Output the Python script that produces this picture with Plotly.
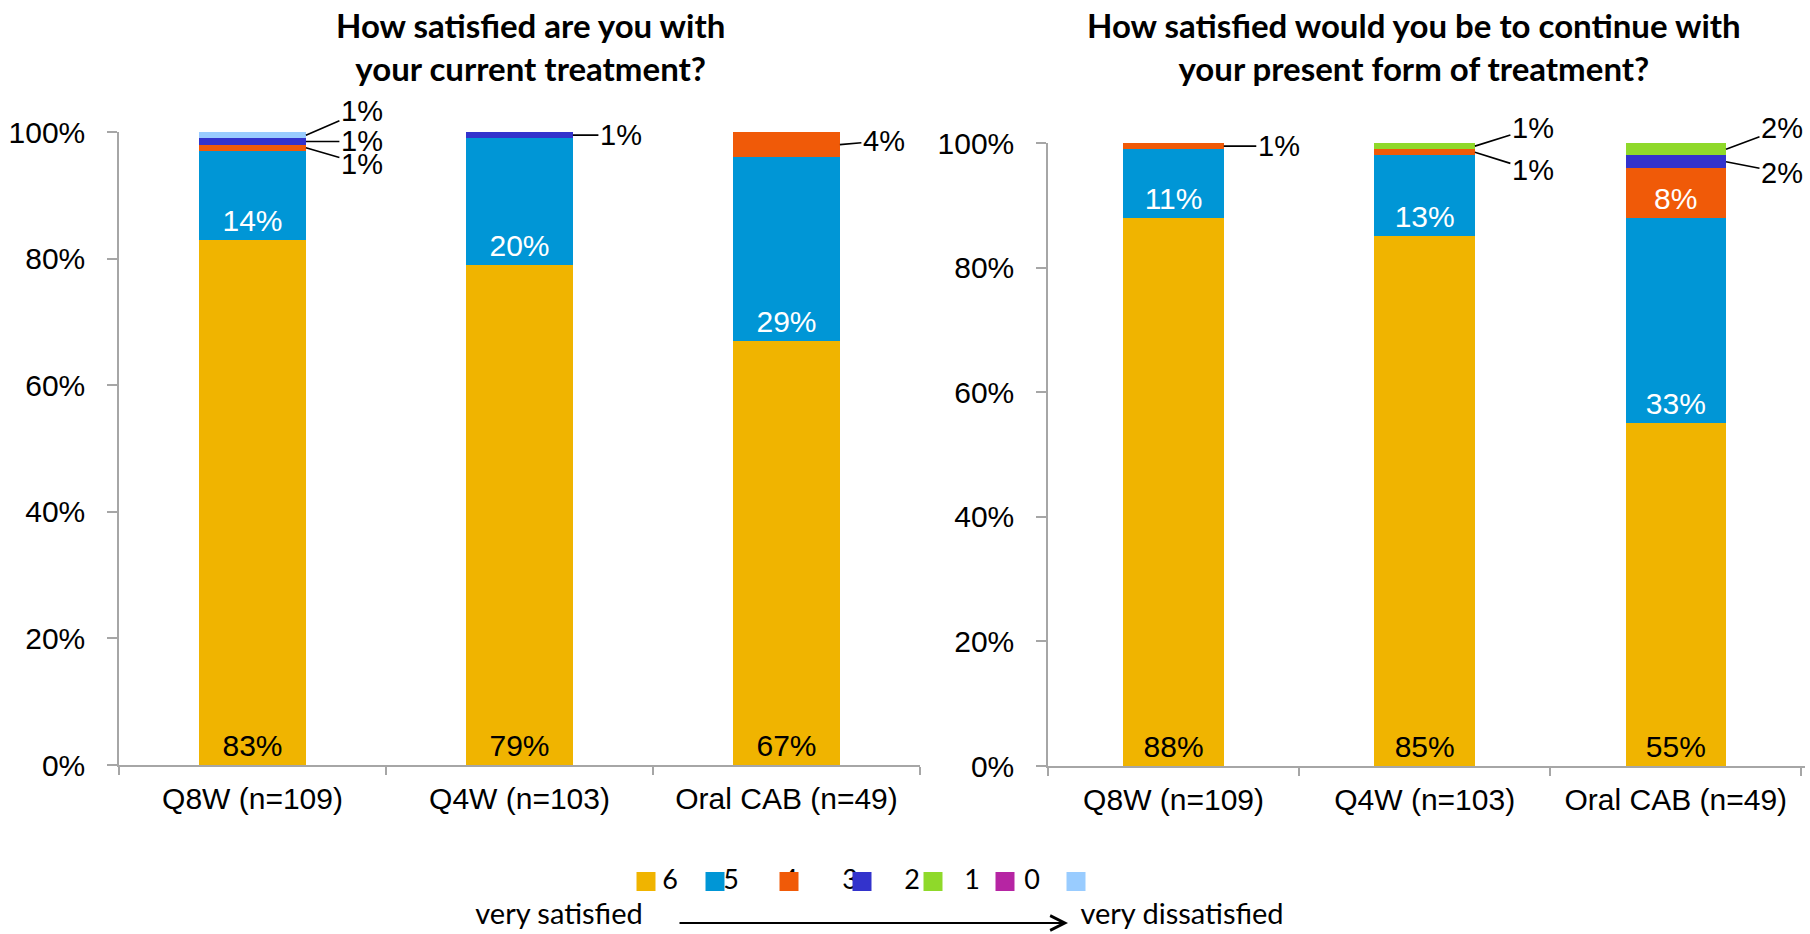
import plotly.graph_objects as go

categories = ["Q8W (n=109)", "Q4W (n=103)", "Oral CAB (n=49)"]
scores = ["6", "5", "4", "3", "2", "1", "0"]
colors = ["#F0B400", "#0096D6", "#F05A08", "#3333CC", "#8FD92A", "#B625A3", "#99CCFF"]

# Left chart: How satisfied are you with your current treatment?
left_6 = [83, 79, 67]
left_5 = [14, 20, 29]
left_4 = [1, 0, 4]
left_3 = [1, 1, 0]
left_2 = [0, 0, 0]
left_1 = [0, 0, 0]
left_0 = [1, 0, 0]

# Right chart: How satisfied would you be to continue with your present form of treatment?
right_6 = [88, 85, 55]
right_5 = [11, 13, 33]
right_4 = [1, 1, 8]
right_3 = [0, 0, 2]
right_2 = [0, 1, 2]
right_1 = [0, 0, 0]
right_0 = [0, 0, 0]

left_series = [left_6, left_5, left_4, left_3, left_2, left_1, left_0]
right_series = [right_6, right_5, right_4, right_3, right_2, right_1, right_0]

title_left = "How satisfied are you with<br>your current treatment?"
title_right = "How satisfied would you be to continue with<br>your present form of treatment?"
y_ticks = [0, 20, 40, 60, 80, 100]
y_ticktext = ["0%", "20%", "40%", "60%", "80%", "100%"]

W, H = 1810, 934
FONT = "Liberation Sans, Arial, sans-serif"
TFONT = "Lato, Liberation Sans, sans-serif"

fig = go.Figure()

for series, xa, ya in [(left_series, "x", "y"), (right_series, "x2", "y2")]:
    for s, vals, col in zip(scores, series, colors):
        fig.add_trace(go.Bar(
            x=categories, y=vals, name=s, marker=dict(color=col, line=dict(width=0)),
            text=[f"{v}%" if v >= 5 else "" for v in vals],
            textposition="inside", insidetextanchor="start", textangle=0,
            textfont=dict(family=FONT, size=30, color="black" if s == "6" else "white"),
            xaxis=xa, yaxis=ya, showlegend=False, hoverinfo="skip",
        ))

# Callouts for small segments: (axis suffix, category index, score, ax, ay)
callouts = [
    ("", 0, "0", 56, -24), ("", 0, "3", 56, 0), ("", 0, "4", 56, 16),
    ("", 1, "3", 48, 0), ("", 2, "4", 44, -4),
    ("2", 0, "4", 55, 0), ("2", 1, "2", 58, -18), ("2", 1, "4", 58, 18),
    ("2", 2, "2", 56, -21), ("2", 2, "3", 56, 11),
]
annotations = []
for suf, ci, sc, ax, ay in callouts:
    series = left_series if suf == "" else right_series
    k = scores.index(sc)
    base = sum(series[j][ci] for j in range(k))
    val = series[k][ci]
    annotations.append(dict(
        x=ci + 0.2, y=base + val / 2, xref="x" + suf, yref="y" + suf,
        text=f"{val}%", showarrow=True, arrowhead=0, arrowwidth=1.6, arrowcolor="black",
        ax=ax, ay=ay, standoff=0, font=dict(family=FONT, size=29, color="black"),
    ))

annotations.append(dict(x=530 / W, y=1 - 46 / H, xref="paper", yref="paper", text="<b>" + title_left + "</b>",
                        showarrow=False, xanchor="center", yanchor="middle",
                        font=dict(family=TFONT, size=33, color="black")))
annotations.append(dict(x=1414 / W, y=1 - 46 / H, xref="paper", yref="paper", text="<b>" + title_right + "</b>",
                        showarrow=False, xanchor="center", yanchor="middle",
                        font=dict(family=TFONT, size=33, color="black")))

# Legend (manual, in a helper subplot whose coordinates are pixels)
leg_text_x = [670, 731, 790, 850, 912, 972, 1032]
leg_sq_x = [646, 715, 789, 862, 933, 1005, 1076]
fig.add_trace(go.Scatter(x=leg_text_x, y=[882] * 7, mode="text", text=scores,
                         textfont=dict(family=TFONT, size=27, color="black"),
                         xaxis="x3", yaxis="y3", showlegend=False, hoverinfo="skip", cliponaxis=False))
fig.add_trace(go.Scatter(x=leg_sq_x, y=[881.5] * 7, mode="markers",
                         marker=dict(symbol="square", size=19, color=colors, line=dict(width=0)),
                         xaxis="x3", yaxis="y3", showlegend=False, hoverinfo="skip", cliponaxis=False))
fig.add_trace(go.Scatter(x=[559, 1182], y=[917, 917], mode="text",
                         text=["very satisfied", "very dissatisfied"],
                         textfont=dict(family=TFONT, size=29, color="black"),
                         xaxis="x3", yaxis="y3", showlegend=False, hoverinfo="skip", cliponaxis=False))
annotations.append(dict(x=1068, y=923, xref="x3", yref="y3", ax=678, ay=923, axref="x3", ayref="y3",
                        text="", showarrow=True, arrowhead=5, arrowsize=1.6, arrowwidth=1.8, arrowcolor="black"))

axis_line = "#A6A6A6"
xcommon = dict(type="category", showline=True, linecolor=axis_line, linewidth=1.5, ticks="outside",
               tickson="boundaries", ticklen=8, tickcolor=axis_line, tickwidth=1.5, automargin=False,
               tickfont=dict(family=FONT, size=30, color="black"), showgrid=False, ticklabelstandoff=6)
ycommon = dict(range=[0, 100], tickmode="array", tickvals=y_ticks, ticktext=y_ticktext, showline=True,
               linecolor=axis_line, automargin=False,
               linewidth=1.5, ticks="outside", ticklen=10, tickcolor=axis_line, tickwidth=1.5,
               tickfont=dict(family=FONT, size=30, color="black"), showgrid=False, zeroline=False,
               ticklabelstandoff=16)

fig.update_layout(
    width=W, height=H, margin=dict(l=0, r=0, t=0, b=0, pad=0, autoexpand=False),
    paper_bgcolor="white", plot_bgcolor="rgba(0,0,0,0)",
    barmode="stack", bargap=0.6, showlegend=False,
    uniformtext=dict(minsize=8, mode="show"),
    xaxis=dict(domain=[119 / W, 920 / W], anchor="y", **xcommon),
    yaxis=dict(domain=[1 - 765 / H, 1 - 132 / H], anchor="x", **ycommon),
    xaxis2=dict(domain=[1048 / W, 1805 / W], anchor="y2", **xcommon),
    yaxis2=dict(domain=[1 - 766 / H, 1 - 143 / H], anchor="x2", **ycommon),
    xaxis3=dict(domain=[0, 1], range=[0, W], anchor="y3", visible=False, fixedrange=True, automargin=False),
    yaxis3=dict(domain=[0, 100 / H], range=[H, H - 100], anchor="x3", visible=False, fixedrange=True,
                automargin=False),
    annotations=annotations,
)

fig.write_html("out.html", config={"displayModeBar": False},
               post_script="document.body.style.margin='0';document.body.style.overflow='hidden';")
